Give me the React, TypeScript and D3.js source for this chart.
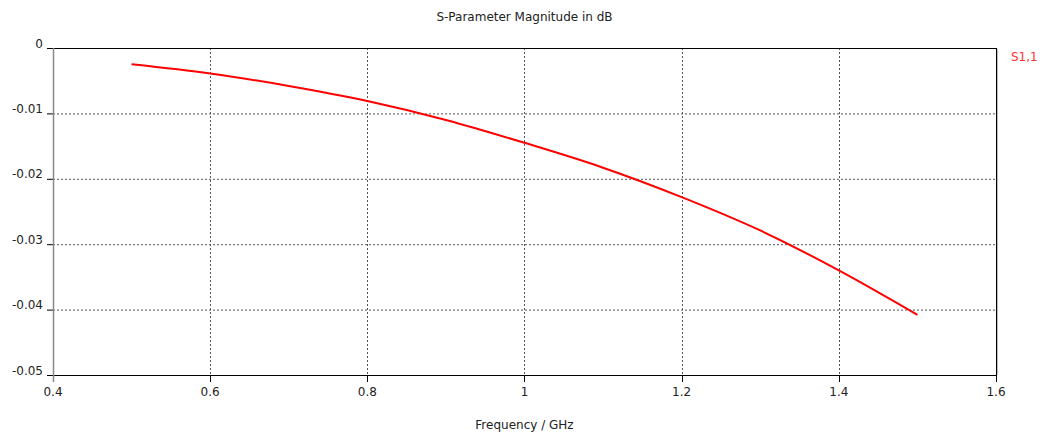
import React from "react";
import * as d3 from "d3";

const freqs = [0.5, 0.6, 0.7, 0.8, 0.9, 1.0, 1.1, 1.2, 1.3, 1.4, 1.5];
const s11 = [-0.0025, -0.0039, -0.0058, -0.0081, -0.0110, -0.0145, -0.0183, -0.0228, -0.0279, -0.034, -0.0408];
const xTicks = [0.4, 0.6, 0.8, 1, 1.2, 1.4, 1.6];
const yTicks = [0, -0.01, -0.02, -0.03, -0.04, -0.05];
const title = "S-Parameter Magnitude in dB";
const xLabel = "Frequency / GHz";
const seriesName = "S1,1";

const W = 1046, H = 439;
const L = 53, R = 996, T = 48, B = 375;

export default function App() {
  const x = d3.scaleLinear().domain([0.4, 1.6]).range([L, R]);
  const y = d3.scaleLinear().domain([-0.05, 0]).range([B, T]);
  const pts = freqs.map((f, i) => [f, s11[i]] as [number, number]);
  const line = d3.line<[number, number]>().x(d => x(d[0])).y(d => y(d[1])).curve(d3.curveMonotoneX);
  const font = "DejaVu Sans, sans-serif";
  return (
    <svg width={W} height={H} style={{ position: "fixed", left: 0, top: 0, background: "#fff" }} fontFamily={font} fontSize={12}>
      <rect x={0} y={0} width={W} height={H} fill="#fff" />
      {yTicks.map(t => (
        <g key={"y" + t}>
          {t !== 0 && t !== -0.05 && (
            <line x1={L} x2={R} y1={y(t) + 0.5} y2={y(t) + 0.5} stroke="#555" strokeDasharray="2,2" />
          )}
          <line x1={L - 6} x2={L} y1={y(t) + 0.5} y2={y(t) + 0.5} stroke="#000" />
          <text x={L - 10} y={y(t)} textAnchor="end" fill="#222" dy="-0.5">{t === 0 ? "0" : String(t)}</text>
        </g>
      ))}
      {xTicks.map(t => (
        <g key={"x" + t}>
          {t !== 0.4 && t !== 1.6 && (
            <line x1={Math.round(x(t)) + 0.5} x2={Math.round(x(t)) + 0.5} y1={T} y2={B} stroke="#555" strokeDasharray="2,2" />
          )}
          <line x1={Math.round(x(t)) + 0.5} x2={Math.round(x(t)) + 0.5} y1={B} y2={B + 7} stroke="#000" />
          <text x={x(t)} y={B + 21} textAnchor="middle" fill="#222">{String(t)}</text>
        </g>
      ))}
      <line x1={L} x2={R + 1} y1={T + 0.5} y2={T + 0.5} stroke="#000" />
      <line x1={L} x2={R + 1} y1={B + 0.5} y2={B + 0.5} stroke="#000" />
      <line x1={R + 0.5} x2={R + 0.5} y1={T} y2={B + 7} stroke="#000" />
      <line x1={R + 1.5} x2={R + 1.5} y1={T + 1} y2={B} stroke="#bbb" />
      <line x1={L + 0.5} x2={L + 0.5} y1={T} y2={B + 7} stroke="#888" strokeWidth={1.5} />
      <path d={line(pts) || ""} fill="none" stroke="#f00" strokeWidth={2} />
      <text x={(L + R) / 2} y={21} textAnchor="middle" fill="#222">{title}</text>
      <text x={(L + R) / 2} y={429} textAnchor="middle" fill="#222">{xLabel}</text>
      <text x={1011} y={61} fill="#f33">{seriesName}</text>
    </svg>
  );
}
